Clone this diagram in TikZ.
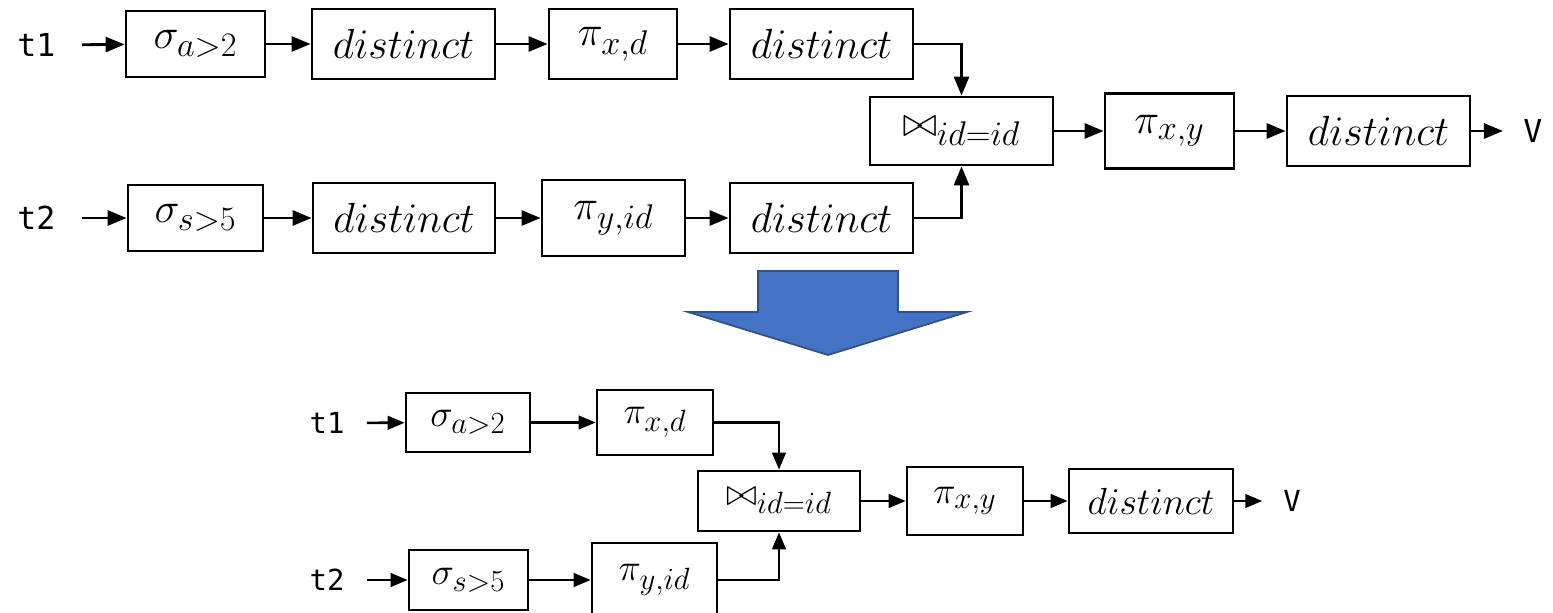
\RequirePackage{fix-cm}
\documentclass[tikz,border=0pt]{standalone}
\usepackage{amsmath,amssymb}
\usepackage{fontspec}
\newfontfamily\ttlbl{DejaVu Sans Mono}
\usepackage{tikz}
\usetikzlibrary{arrows.meta,positioning,calc}

\DeclareMathSizes{24}{24}{19.5}{15}
\DeclareMathSizes{21.5}{21.5}{17.5}{13.5}

\definecolor{bigblue}{HTML}{4472C4}
\definecolor{bigedge}{HTML}{2F528F}

\tikzset{
  op/.style={draw, line width=1.6pt, inner sep=0pt, minimum height=14mm,
    font=\fontsize{24}{29}\selectfont},
  opsmall/.style={op, line width=1.5pt, font=\fontsize{21.5}{26}\selectfont},
  tlbl/.style={inner sep=0pt, outer sep=#1, font=\ttlbl\fontsize{18}{22}\selectfont},
  blbl/.style={inner sep=0pt, outer sep=#1, font=\ttlbl\fontsize{16.5}{20}\selectfont},
  flow/.style={line width=1.6pt, -{Triangle[length=3.8mm,width=3mm]}},
  bflow/.style={line width=1.5pt, -{Triangle[length=3.4mm,width=2.7mm]}},
}

\begin{document}
\begin{tikzpicture}[x=0.2mm, y=-0.2mm]
    \useasboundingbox (0,0) rectangle (1553,613);

    % Original plan, first input
    \node[tlbl=5.3mm] (t1) at (36.5,45) {t1};
    \node[op, minimum width=27.8mm, minimum height=13.2mm] (sel1) at (195.5,44) {$\sigma_{a>2}$};
    \node[op, minimum width=36.6mm] (dist1) at (403.5,44) {$distinct$};
    \node[op, minimum width=25.6mm] (proj1) at (613,44) {$\pi_{x,d}$};
    \node[op, minimum width=36.6mm] (dist2) at (821.5,44) {$distinct$};

    % Original plan, second input
    \node[tlbl=5.3mm] (t2) at (36.5,218) {t2};
    \node[op, minimum width=27mm, minimum height=13.2mm] (sel2) at (195.5,218) {$\sigma_{s>5}$};
    \node[op, minimum width=36.4mm] (dist3) at (404,218) {$distinct$};
    \node[op, minimum width=28.6mm, minimum height=15.2mm] (proj2) at (613.5,218) {$\pi_{y,id}$};
    \node[op, minimum width=36.6mm] (dist4) at (821.5,218) {$distinct$};

    % Original plan, join and output
    \node[op, minimum width=36.6mm, minimum height=13.6mm] (join) at (961.5,131) {$\bowtie_{id=id}$};
    \node[op, minimum width=25.8mm, minimum height=15mm] (projxy) at (1169.5,131) {$\pi_{x,y}$};
    \node[op, minimum width=36.6mm] (dist5) at (1378.5,131) {$distinct$};
    \node[tlbl=4.1mm] (v) at (1533,131) {V};

    \draw[flow] (t1) -- (sel1);
    \draw[flow] (sel1) -- (dist1);
    \draw[flow] (dist1) -- (proj1);
    \draw[flow] (proj1) -- (dist2);
    \draw[flow] (dist2.east) -| (join.north);
    \draw[flow] (t2) -- (sel2);
    \draw[flow] (sel2) -- (dist3);
    \draw[flow] (dist3) -- (proj2);
    \draw[flow] (proj2) -- (dist4);
    \draw[flow] (dist4.east) -| (join.south);
    \draw[flow] (join) -- (projxy);
    \draw[flow] (projxy) -- (dist5);
    \draw[flow] (dist5) -- (v);

    % Rewrite arrow
    \filldraw[fill=bigblue, draw=bigedge, line width=1pt]
      (758,271) -- (898,271) -- (898,312) -- (967,312) -- (828,355)
      -- (688,312) -- (758,312) -- cycle;

    % Rewritten plan
    \node[blbl=4.5mm] (bt1) at (327,423) {t1};
    \node[opsmall, minimum width=24.8mm, minimum height=11.8mm] (bsel1) at (468,422.5) {$\sigma_{a>2}$};
    \node[opsmall, minimum width=23.2mm, minimum height=13mm] (bproj1) at (655,422.5) {$\pi_{x,d}$};
    \node[blbl=4.5mm] (bt2) at (327,580) {t2};
    \node[opsmall, minimum width=23.8mm, minimum height=12mm] (bsel2) at (468.5,580) {$\sigma_{s>5}$};
    \node[opsmall, minimum width=25mm, minimum height=14.8mm] (bproj2) at (654.5,580) {$\pi_{y,id}$};
    \node[opsmall, minimum width=32.4mm, minimum height=12mm] (bjoin) at (779,501) {$\bowtie_{id=id}$};
    \node[opsmall, minimum width=23.2mm, minimum height=13.6mm] (bprojxy) at (965,501) {$\pi_{x,y}$};
    \node[opsmall, minimum width=32.8mm, minimum height=12.8mm] (bdist) at (1151,501) {$distinct$};
    \node[blbl=4.2mm] (bv) at (1292,501) {V};

    \draw[bflow] (bt1) -- (bsel1);
    \draw[bflow] (bsel1) -- (bproj1);
    \draw[bflow] (bproj1.east) -| (bjoin.north);
    \draw[bflow] (bt2) -- (bsel2);
    \draw[bflow] (bsel2) -- (bproj2);
    \draw[bflow] (bproj2.east) -| (bjoin.south);
    \draw[bflow] (bjoin) -- (bprojxy);
    \draw[bflow] (bprojxy) -- (bdist);
    \draw[bflow] (bdist) -- (bv);
\end{tikzpicture}
\end{document}
